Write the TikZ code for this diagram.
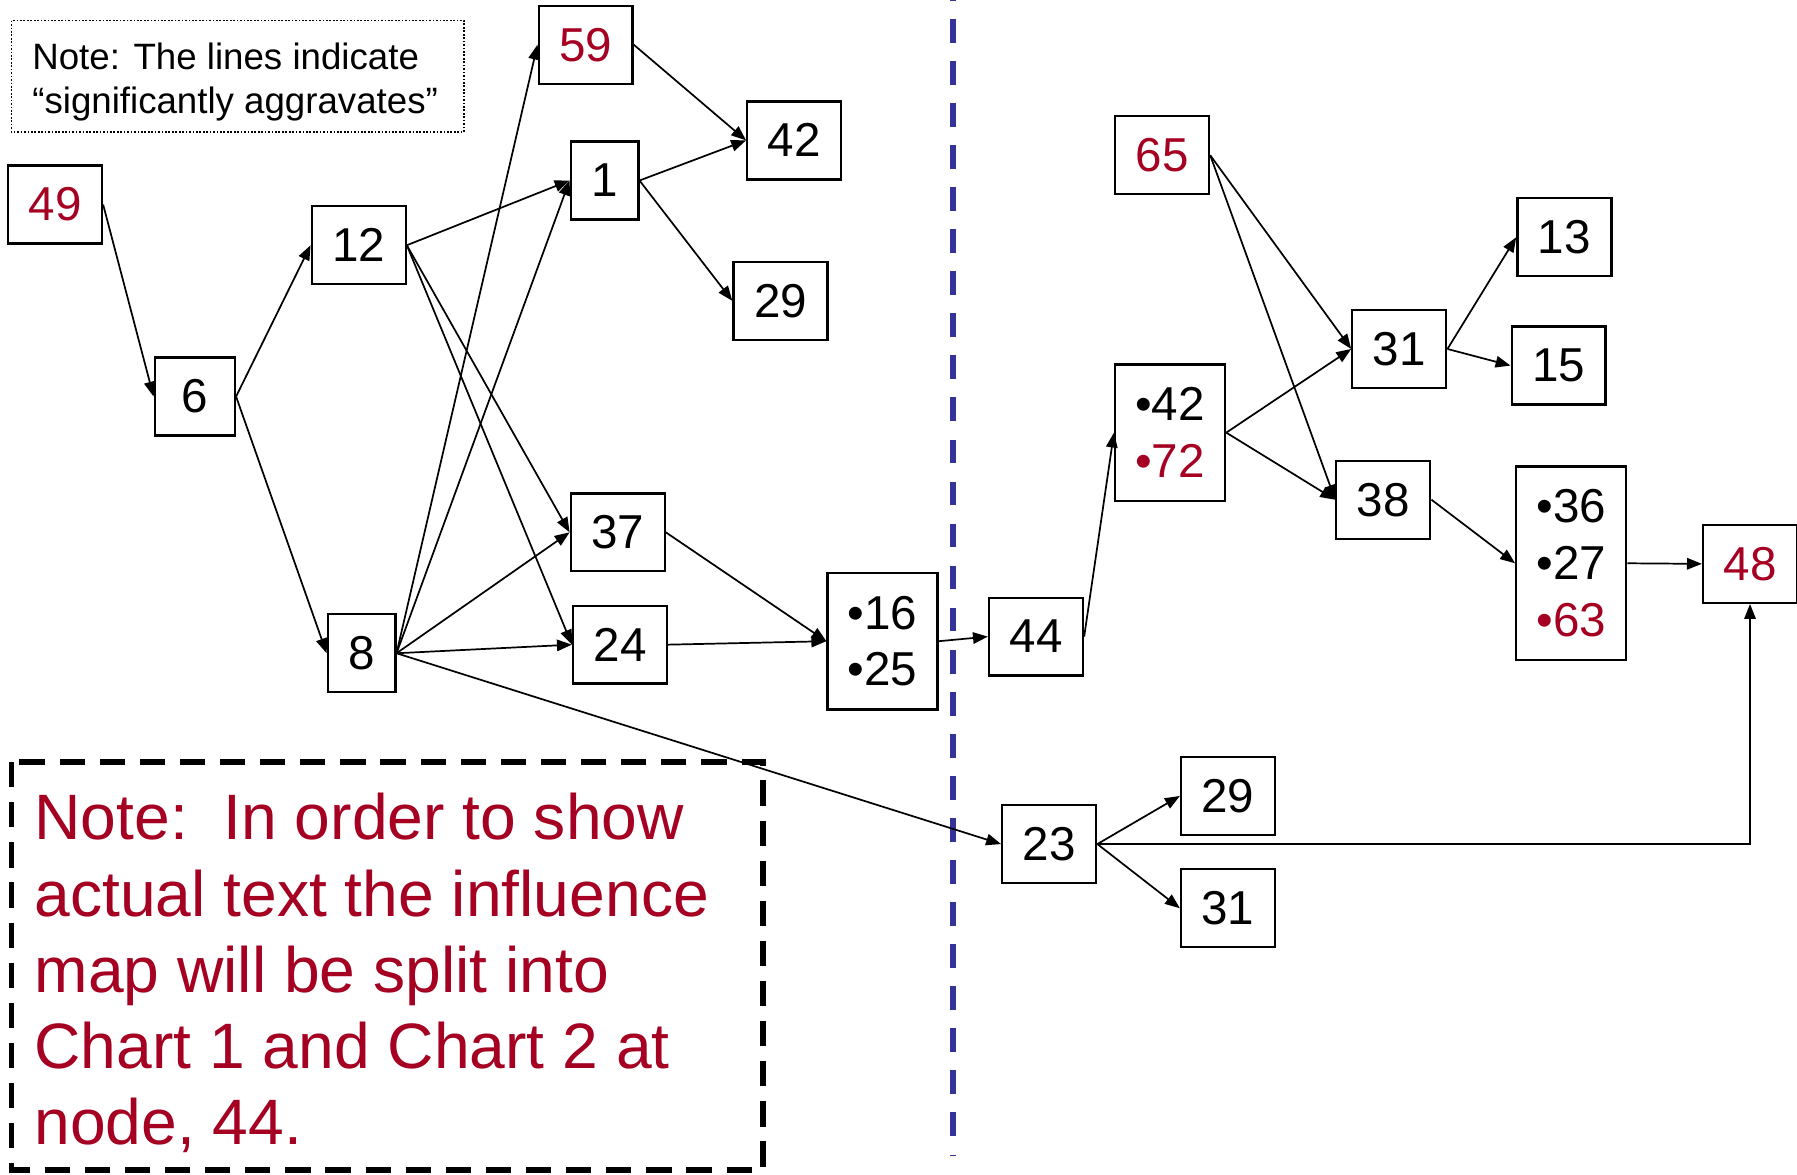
\documentclass[tikz,border=0pt]{standalone}
\usepackage{fontspec}
\setmainfont{Liberation Sans}
\usetikzlibrary{arrows.meta}
\definecolor{dred}{RGB}{165,0,33}
\definecolor{dblue}{RGB}{51,51,153}
\begin{document}
\begin{tikzpicture}[x=1pt,y=-1pt,
  box/.style={draw, line width=2pt, inner sep=0pt, align=left,
    font=\fontsize{41.5}{49.5}\selectfont},
  sq/.style={box, minimum width=82pt, minimum height=68pt},
  nar/.style={box, minimum width=59pt, minimum height=68pt},
  tall/.style={box, minimum width=96pt, minimum height=119pt},
  edge/.style={line width=1.5pt, -{Triangle[length=13pt,width=10pt]}},
]
\useasboundingbox (0,0) rectangle (1568,1025);

% notes
\draw[line width=1.5pt, dash pattern=on 1.5pt off 1.5pt] (10,18) rectangle (405,115);
\node[anchor=north west, inner sep=0pt, align=left,
  font=\fontsize{32}{39}\selectfont] (note1) at (28,37)
  {Note: The lines indicate\\“significantly aggravates”};

\draw[line width=5pt, dash pattern=on 22pt off 13pt] (10,665) rectangle (666,1021);
\node[anchor=north west, inner sep=0pt, align=left, text=dred,
  font=\fontsize{56}{66.5}\selectfont] (note2) at (30,692)
  {Note:\ \ In order to show\\actual text the influence\\map will be split into\\Chart 1 and Chart 2 at\\node, 44.};

% divider
\draw[dblue, line width=4.5pt, dash pattern=on 20.7pt off 16pt, dash phase=20.2pt] (831.5,0) -- (831.5,1009);

% nodes
\node[sq] (n49) at (48,178.5) {\textcolor{dred}{49}};
\node[box, minimum width=70pt, minimum height=68pt] (n6) at (170,346) {6};
\node[sq] (n12) at (313,214) {12};
\node[nar] (n8) at (315.5,570) {8};
\node[sq] (n59) at (511,39) {\textcolor{dred}{59}};
\node[nar] (n1) at (527.5,157.5) {1};
\node[sq] (n42) at (693,122.5) {42};
\node[sq] (n29a) at (681,262.5) {29};
\node[sq] (n37) at (539,464.5) {37};
\node[sq] (n24) at (541,562.5) {24};
\node[tall] (n1625) at (770,559.5) {•16\\•25};
\node[sq] (n44) at (904,555.5) {44};
\node[sq] (n65) at (1014,135.5) {\textcolor{dred}{65}};
\node[tall] (n4272) at (1021,377.5) {•42\\\textcolor{dred}{•72}};
\node[sq] (n31a) at (1221,304.5) {31};
\node[sq] (n13) at (1365,207) {13};
\node[sq] (n15) at (1360,319) {15};
\node[sq] (n38) at (1207,436) {38};
\node[box, minimum width=96pt, minimum height=169pt] (n362763) at (1371,491.5) {•36\\•27\\\textcolor{dred}{•63}};
\node[sq] (n48) at (1527,492) {\textcolor{dred}{48}};
\node[sq] (n23) at (915.5,736.5) {23};
\node[sq] (n29b) at (1071.5,694.5) {29};
\node[sq] (n31b) at (1071.5,792.5) {31};

% edges
\draw[edge] (n49.east) -- (n6.west);
\draw[edge] (n6.east) -- (n12.west);
\draw[edge] (n6.east) -- (n8.west);
\draw[edge] (n12.east) -- (n1.west);
\draw[edge] (n12.east) -- (n37.west);
\draw[edge] (n12.east) -- (n24.west);
\draw[edge] (n8.east) -- (n59.west);
\draw[edge] (n8.east) -- (n1.west);
\draw[edge] (n8.east) -- (n37.west);
\draw[edge] (n8.east) -- (n24.west);
\draw[edge] (n8.east) -- (n23.west);
\draw[edge] (n59.east) -- (n42.west);
\draw[edge] (n1.east) -- (n42.west);
\draw[edge] (n1.east) -- (n29a.west);
\draw[edge] (n37.east) -- (n1625.west);
\draw[edge] (n24.east) -- (n1625.west);
\draw[edge] (n1625.east) -- (n44.west);
\draw[edge] (n44.east) -- (n4272.west);
\draw[edge] (n65.east) -- (n31a.west);
\draw[edge] (n65.east) -- (n38.west);
\draw[edge] (n4272.east) -- (n31a.west);
\draw[edge] (n4272.east) -- (n38.west);
\draw[edge] (n31a.east) -- (n13.west);
\draw[edge] (n31a.east) -- (n15.west);
\draw[edge] (n38.east) -- (n362763.west);
\draw[edge] (n362763.east) -- (n48.west);
\draw[edge] (n23.east) -- (n29b.west);
\draw[edge] (n23.east) -- (n31b.west);
\draw[edge] (n23.east) -| (n48.south);
\end{tikzpicture}
\end{document}
